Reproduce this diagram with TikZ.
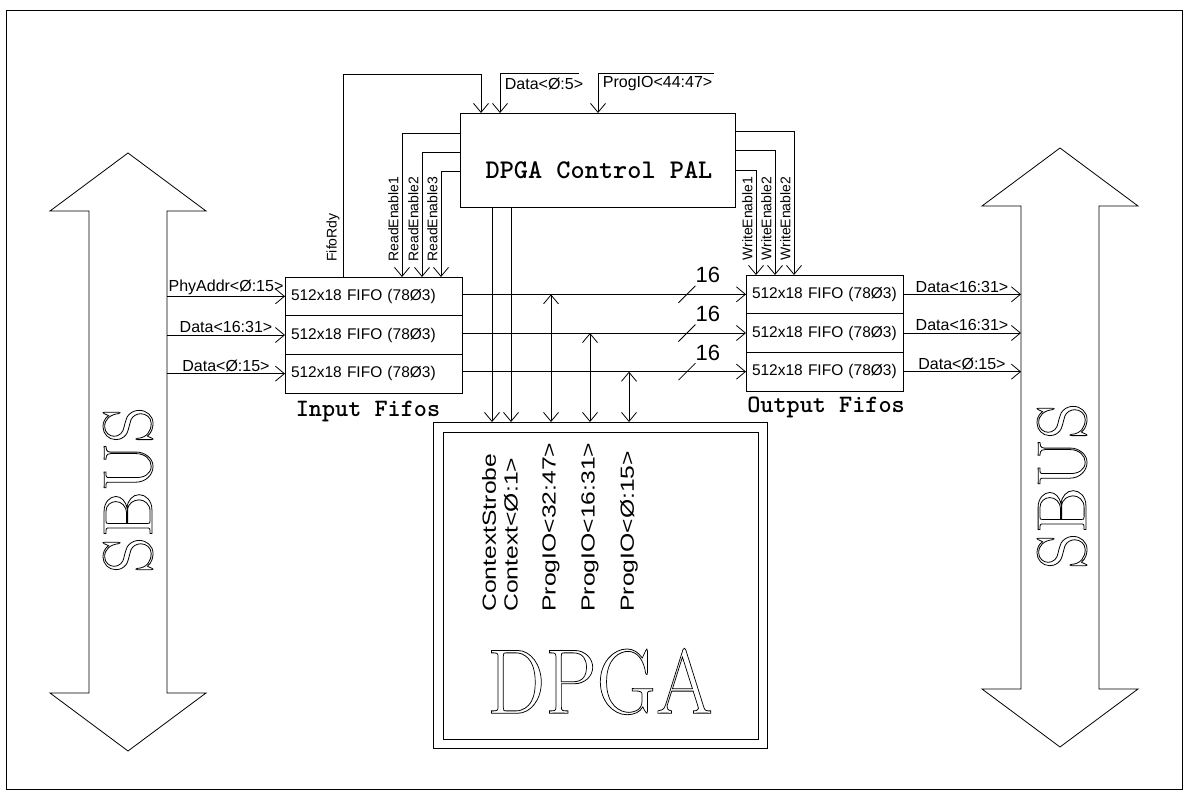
\documentclass[tikz,border=0pt]{standalone}
\usepackage{fontspec}
\usepackage{graphicx}
\usetikzlibrary{arrows.meta}
\newfontfamily\sigfont{Liberation Sans}
\newfontfamily\widefont[FakeStretch=1.3]{Liberation Sans}
\newcommand\hollow[1]{\special{pdf:literal direct 1 Tr 0.8 w}#1\special{pdf:literal direct 0 Tr}}
\begin{document}
\begin{tikzpicture}[x=1pt,y=-1pt,line width=0.8pt,
  wire/.style={-{Straight Barb[length=9pt,width=15pt]}},
  bwire/.style={{Straight Barb[length=9pt,width=15pt]}-{Straight Barb[length=9pt,width=15pt]}},
  fifo/.style={draw,anchor=north west,minimum height=38.67pt,inner xsep=6pt,inner ysep=0pt,
    outer sep=0pt,align=left,font=\sigfont\fontsize{15.5}{18}\selectfont},
  lbl/.style={font=\sigfont\fontsize{16}{18}\selectfont,inner sep=1.5pt},
  vlbl/.style={font=\sigfont\fontsize{14}{16}\selectfont,rotate=90,anchor=south west,inner sep=1pt},
  inlbl/.style={font=\widefont\fontsize{19}{22}\selectfont,rotate=90,anchor=west,inner sep=0pt},
  title/.style={font=\ttfamily\bfseries\fontsize{25}{28}\selectfont},
  width16/.style={font=\sigfont\fontsize{22}{24}\selectfont}
]
\useasboundingbox (0,0) rectangle (1187,791);
\draw (6,10) rectangle (1182,789);

% SBUS arrows
\draw (128,153) -- (206,211) -- (167,211) -- (167,693) -- (206,693) -- (128,751)
  -- (50,693) -- (89,693) -- (89,211) -- (50,211) -- cycle;
\draw (1060,148) -- (1138,206) -- (1099,206) -- (1099,689) -- (1138,689) -- (1060,747)
  -- (982,689) -- (1021,689) -- (1021,206) -- (982,206) -- cycle;
\coordinate (LB) at (167,0);
\coordinate (RB) at (1021,0);

% PAL
\node[draw,minimum width=275pt,minimum height=94pt,inner sep=0pt,outer sep=0pt,
  label={[title,font=\ttfamily\bfseries\fontsize{27}{30}\selectfont,yshift=-10pt,xshift=1.5pt]center:DPGA Control PAL}]
  (pal) at (597.5,160) {};

% FIFOs
\node[fifo,text width=165pt] (in1) at (285,277) {\mbox{512x18 FIFO (78Ø3)}};
\node[fifo,text width=165pt] (in2) at (285,315.67) {\mbox{512x18 FIFO (78Ø3)}};
\node[fifo,text width=165pt] (in3) at (285,354.33) {\mbox{512x18 FIFO (78Ø3)}};
\node[fifo,text width=145pt] (out1) at (746,275) {\mbox{512x18 FIFO (78Ø3)}};
\node[fifo,text width=145pt] (out2) at (746,313.67) {\mbox{512x18 FIFO (78Ø3)}};
\node[fifo,text width=145pt] (out3) at (746,352.33) {\mbox{512x18 FIFO (78Ø3)}};
\node[title,anchor=base] (inlab) at (368,417) {Input Fifos};
\node[title,anchor=base] (outlab) at (826,413) {Output Fifos};

% DPGA (double frame)
\node[draw,minimum width=334pt,minimum height=326pt,inner sep=0pt,outer sep=0pt] (dpga) at (600,585) {};
\draw ([shift={(10,10)}]dpga.north west) rectangle ([shift={(-9,-9)}]dpga.south east);

% SBUS -> input fifos
\draw[wire] (LB |- in1.west) -- node[lbl,above] {PhyAddr<Ø:15>} (in1.west);
\draw[wire] (LB |- in2.west) -- node[lbl,above] {Data<16:31>} (in2.west);
\draw[wire] (LB |- in3.west) -- node[lbl,above] {Data<Ø:15>} (in3.west);

% output fifos -> SBUS
\draw[wire] (out1.east) -- node[lbl,above] {Data<16:31>} (RB |- out1.east);
\draw[wire] (out2.east) -- node[lbl,above] {Data<16:31>} (RB |- out2.east);
\draw[wire] (out3.east) -- node[lbl,above] {Data<Ø:15>} (RB |- out3.east);

% input -> output
\draw[wire] (in1.east |- out1.west) -- coordinate[pos=0.792] (s1) (out1.west);
\draw[wire] (in2.east |- out2.west) -- coordinate[pos=0.792] (s2) (out2.west);
\draw[wire] (in3.east |- out3.west) -- coordinate[pos=0.792] (s3) (out3.west);
\foreach \s in {s1,s2,s3}{
  \draw ([shift={(-8.5,8.5)}]\s) -- ([shift={(8.5,-8.5)}]\s);
  \node[width16] at ([shift={(21,-19)}]\s) {16};
}

% bidirectional ProgIO
\coordinate (v1) at (551,0);
\coordinate (v2) at (590,0);
\coordinate (v3) at (629,0);
\draw[bwire] (v1 |- out1.west) -- (v1 |- dpga.north);
\draw[bwire] (v2 |- out2.west) -- (v2 |- dpga.north);
\draw[bwire] (v3 |- out3.west) -- (v3 |- dpga.north);

% PAL -> DPGA
\coordinate (p1) at (492,0);
\coordinate (p2) at (511,0);
\draw[wire] (p1 |- pal.south) -- (p1 |- dpga.north);
\draw[wire] (p2 |- pal.south) -- (p2 |- dpga.north);

% FifoRdy
\coordinate (fr) at (343,74);
\coordinate (fr2) at (481,74);
\draw[wire] (fr |- in1.north) |- (fr2) -- (fr2 |- pal.north);
\node[vlbl] at (341,263) {FifoRdy};

% Data<0:5> and ProgIO<44:47>
\coordinate (d5a) at (500,73);
\coordinate (d5b) at (579,73);
\draw[wire] (d5b) -- (d5a) -- (d5a |- pal.north);
\node[lbl,anchor=west] at (503,84) {Data<Ø:5>};
\coordinate (pia) at (598,73);
\coordinate (pib) at (714,73);
\draw[wire] (pib) -- (pia) -- (pia |- pal.north);
\node[lbl,anchor=west] at (601,84) {ProgIO<44:47>};

% ReadEnables
\coordinate (re1) at (402,133);
\coordinate (re2) at (422,152);
\coordinate (re3) at (441,171);
\draw[wire] (pal.west |- re1) -| (re1 |- in1.north);
\draw[wire] (pal.west |- re2) -| (re2 |- in1.north);
\draw[wire] (pal.west |- re3) -| (re3 |- in1.north);
\node[vlbl] at (400,263) {ReadEnable1};
\node[vlbl] at (420,263) {ReadEnable2};
\node[vlbl] at (439,263) {ReadEnable3};

% WriteEnables
\coordinate (we1) at (756,170);
\coordinate (we2) at (775,150);
\coordinate (we3) at (794,131);
\draw[wire] (pal.east |- we1) -| (we1 |- out1.north);
\draw[wire] (pal.east |- we2) -| (we2 |- out1.north);
\draw[wire] (pal.east |- we3) -| (we3 |- out1.north);
\node[vlbl] at (754,262) {WriteEnable1};
\node[vlbl] at (773,262) {WriteEnable2};
\node[vlbl] at (792,262) {WriteEnable2};

% DPGA internal labels
\node[inlbl] at (489,612) {ContextStrobe};
\node[inlbl] at (511,612) {Context<Ø:1>};
\node[inlbl] at (551,612) {ProgIO<32:47>};
\node[inlbl] at (590,612) {ProgIO<16:31>};
\node[inlbl] at (629,612) {ProgIO<Ø:15>};

% big hollow titles
\node[font=\rmfamily\fontsize{92}{92}\selectfont,inner sep=0pt] (dpgatitle) at (600,681.5)
  {\scalebox{0.89}[1]{\hollow{DPGA}}};
\node[font=\rmfamily\fontsize{70}{70}\selectfont,rotate=90,inner sep=0pt] (sbusL) at (128,490) {\hollow{SBUS}};
\node[font=\rmfamily\fontsize{70}{70}\selectfont,rotate=90,inner sep=0pt] (sbusR) at (1062,486) {\hollow{SBUS}};
\end{tikzpicture}
\end{document}
